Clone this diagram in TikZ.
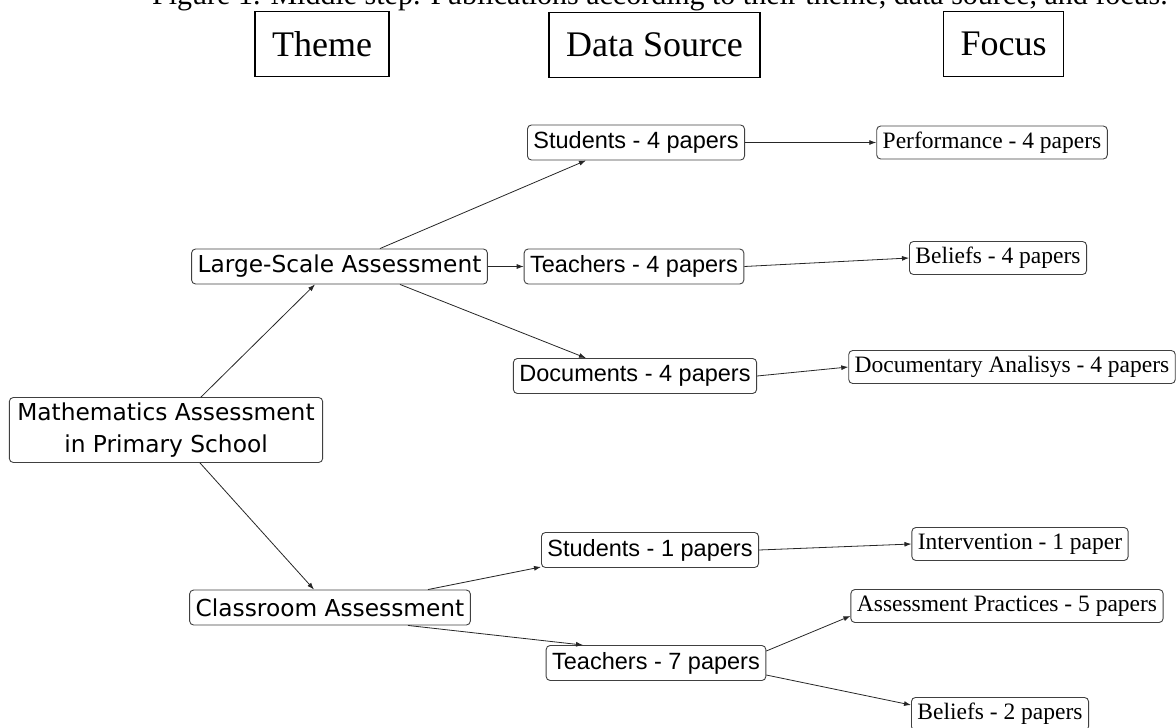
\documentclass[tikz,border=0pt]{standalone}
\usepackage{fontspec}
\setmainfont{Liberation Serif}
\newfontfamily\tahfont{DejaVu Sans}
\newfontfamily\arifont{Liberation Sans}
\usetikzlibrary{arrows.meta}
\begin{document}
\begin{tikzpicture}[x=1pt,y=-1pt,
  themebox/.style={draw=black!75, rounded corners=4pt, line width=0.9pt,
    font=\tahfont\fontsize{23.3}{32}\selectfont, inner xsep=6pt, inner ysep=3pt,
    minimum height=35pt, align=center},
  srcbox/.style={draw=black!75, rounded corners=4pt, line width=0.9pt,
    font=\arifont\fontsize{23.5}{28}\selectfont, inner xsep=6pt, inner ysep=2pt,
    minimum height=35pt},
  focbox/.style={draw=black!75, rounded corners=4pt, line width=0.9pt,
    font=\fontsize{23.5}{28}\selectfont, inner xsep=6pt, inner ysep=2pt,
    minimum height=33pt},
  hdrbox/.style={draw=black, line width=1.3pt, font=\fontsize{36}{40}\selectfont,
    inner xsep=17pt, minimum height=65pt},
  arr/.style={draw=black!85, line width=0.8pt, -{Latex[length=7pt,width=5pt]}}
]
\useasboundingbox (0,0) rectangle (1176,728);
% caption (top cut off at the page edge, as in the reference)
\node[anchor=base west, inner sep=0pt, font=\fontsize{30}{34}\selectfont] (cap) at (152,5)
  {Figure 1. Middle step. Publications according to their theme, data source, and focus.};
% headers
\node[hdrbox] (hTheme) at (322,44) {Theme};
\node[hdrbox] (hData) at (654.5,45) {Data Source};
\node[hdrbox] (hFocus) at (1003.5,44) {Focus};
% theme column
\node[themebox, inner xsep=8pt, minimum height=65pt] (main) at (166,430) {Mathematics Assessment\\in Primary School};
\node[themebox] (ls) at (339.5,266.5) {Large-Scale Assessment};
\node[themebox] (ca) at (330,607.5) {Classroom Assessment};
% data source column
\node[srcbox] (s4) at (636,142.5) {Students - 4 papers};
\node[srcbox] (t4) at (634,266.5) {Teachers - 4 papers};
\node[srcbox] (d4) at (635,376) {Documents - 4 papers};
\node[srcbox] (s1) at (650,550) {Students - 1 papers};
\node[srcbox] (t7) at (656,663) {Teachers - 7 papers};
% focus column
\node[focbox] (p4) at (992,142.5) {Performance - 4 papers};
\node[focbox] (b4) at (998,258) {Beliefs - 4 papers};
\node[focbox] (da) at (1012,367) {Documentary Analisys - 4 papers};
\node[focbox] (i1) at (1020,544) {Intervention - 1 paper};
\node[focbox] (ap) at (1007,606) {Assessment Practices - 5 papers};
\node[focbox] (b2) at (1000,714) {Beliefs - 2 papers};
% connectors
\draw[arr] ([xshift=35pt]main.north) -- ([xshift=-24.5pt]ls.south);
\draw[arr] ([xshift=34pt]main.south) -- ([xshift=-16pt]ca.north);
\draw[arr] ([xshift=40.5pt]ls.north) -- ([xshift=-50pt]s4.south);
\draw[arr] (ls.east) -- (t4.west);
\draw[arr] ([xshift=60.5pt]ls.south) -- ([xshift=-49pt]d4.north);
\draw[arr] ([xshift=98pt]ca.north) -- ([yshift=1pt]s1.south west);
\draw[arr] ([xshift=78pt]ca.south) -- ([xshift=-73pt]t7.north);
\draw[arr] (s4.east) -- (p4.west);
\draw[arr] (t4.east) -- (b4.west);
\draw[arr] (d4.east) -- (da.west);
\draw[arr] (s1.east) -- (i1.west);
\draw[arr] ([yshift=12pt]t7.east) -- ([yshift=-10pt]ap.west);
\draw[arr] ([yshift=-12pt]t7.east) -- ([yshift=9pt]b2.west);
\end{tikzpicture}
\end{document}
